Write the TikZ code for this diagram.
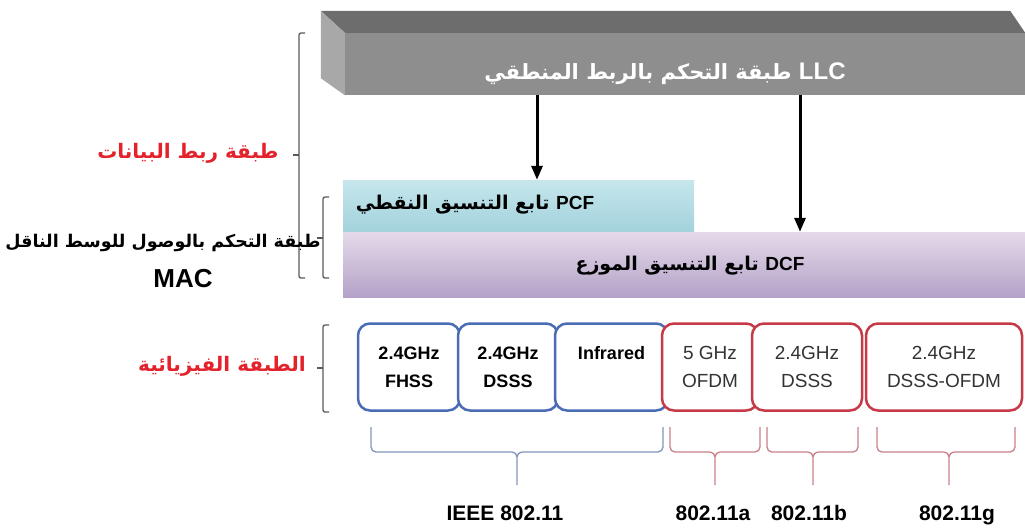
\documentclass[tikz,border=0pt]{standalone}
\usepackage{fontspec}
\setmainfont{Liberation Sans}
\newfontfamily\arabicfont[Script=Arabic]{DejaVu Sans}
\newfontfamily\latinfont{Liberation Sans}
\TeXXeTstate=1
\usetikzlibrary{arrows.meta,positioning,calc}
\definecolor{llctop}{HTML}{6D6D6D}
\definecolor{llcfront}{HTML}{8E8E8E}
\definecolor{llcside}{HTML}{A8A8A8}
\definecolor{pcftop}{HTML}{C6E6EC}
\definecolor{pcfbot}{HTML}{A2D2DC}
\definecolor{dcftop}{HTML}{E4DAEA}
\definecolor{dcfbot}{HTML}{B4A2C8}
\definecolor{phyblue}{HTML}{4A6CB4}
\definecolor{phyred}{HTML}{C63A48}
\definecolor{braceblue}{HTML}{8294BC}
\definecolor{bracered}{HTML}{C98089}
\definecolor{lblred}{HTML}{E3222C}
\definecolor{darktxt}{HTML}{333333}

\begin{document}
\begin{tikzpicture}[x=1pt, y=-1pt,
  bar/.style={draw=none, inner sep=0pt},
  arr/.style={-{Triangle[length=14pt,width=11pt]}, line width=3pt},
  phy/.style={line width=2.5pt, rounded corners=12pt, fill=white,
              minimum height=87pt, align=center, inner sep=0pt},
  phyb/.style={phy, draw=phyblue, font=\fontsize{18}{28}\selectfont\bfseries},
  phyr/.style={phy, draw=phyred, text=darktxt, font=\fontsize{19}{28}\selectfont},
  bkt/.style={draw=black!65, line width=1.3pt, rounded corners=2pt},
  brc/.style={line width=1.3pt, rounded corners=5pt},
  ar/.style={font=\fontsize{20}{24}\selectfont\bfseries},
  std/.style={font=\fontsize{21}{24}\selectfont\bfseries, anchor=base}
]
  \useasboundingbox (0,0) rectangle (1025,528);

  \node[bar, fill=llcfront, minimum width=680pt, minimum height=62pt] (llc) at (685,64) {};
  \fill[llctop] ([xshift=-24pt,yshift=22pt]llc.north west) -- ([xshift=-15pt,yshift=22pt]llc.north east)
    -- (llc.north east) -- (llc.north west) -- cycle;
  \fill[llcside] ([xshift=-24pt,yshift=22pt]llc.north west) -- (llc.north west)
    -- (llc.south west) -- ([xshift=-24pt,yshift=17pt]llc.south west) -- cycle;
  \node[ar, text=white, font=\fontsize{21}{28}\selectfont\bfseries] (llct) at (665,74)
    {\arabicfont\beginR\beginL{\latinfont\fontsize{24}{28}\selectfont LLC}\endL{} طبقة التحكم بالربط المنطقي\endR};

  \node[bar, top color=pcftop, bottom color=pcfbot, minimum width=351pt, minimum height=52pt] (pcf) at (518.5,206) {};
  \node[bar, top color=dcftop, bottom color=dcfbot, minimum width=682pt, minimum height=65pt] (dcf) at (684,264.5) {};
  \node[ar, font=\fontsize{19}{24}\selectfont\bfseries] (pcft) at (475,205)
    {\arabicfont\beginR\beginL{\latinfont PCF}\endL{} تابع التنسيق النقطي\endR};
  \node[ar, font=\fontsize{19}{24}\selectfont\bfseries] (dcft) at (690,266)
    {\arabicfont\beginR\beginL{\latinfont DCF}\endL{} تابع التنسيق الموزع\endR};

  \coordinate (a1) at (537,0);
  \coordinate (a2) at (800,0);
  \draw[arr] (llc.south -| a1) -- (pcf.north -| a1);
  \draw[arr] (llc.south -| a2) -- (dcf.north -| a2);

  \draw[bkt] (305,33) -- (299,33) -- (299,278) -- (305,278);
  \draw[bkt] (299,155) -- (293,155);
  \draw[bkt] (329,197) -- (323,197) -- (323,278) -- (329,278);
  \draw[bkt] (323,238) -- (317,238);
  \draw[bkt] (329,325) -- (323,325) -- (323,412) -- (329,412);
  \draw[bkt] (323,368) -- (317,368);

  \node[ar, text=lblred] (dll) at (188,153) {\arabicfont\beginR طبقة ربط البيانات\endR};
  \node[ar, font=\fontsize{17.5}{24}\selectfont\bfseries] (macar) at (163,243)
    {\arabicfont\beginR طبقة التحكم بالوصول للوسط الناقل\endR};
  \node[std, font=\fontsize{26}{28}\selectfont\bfseries] (mac) at (183,287) {MAC};
  \node[ar, text=lblred] (phy) at (222,366) {\arabicfont\beginR الطبقة الفيزيائية\endR};

  \node[phyb, minimum width=102pt] (fhss) at (409,367) {2.4GHz\\FHSS};
  \node[phyb, minimum width=100pt] (dsss) at (508,367) {2.4GHz\\DSSS};
  \node[phyb, minimum width=113pt] (ir) at (611.5,367) {Infrared\\\phantom{X}};
  \node[phyr, minimum width=96pt] (ofdm) at (710,367) {5 GHz\\OFDM};
  \node[phyr, minimum width=110pt] (dsssb) at (807,367) {2.4GHz\\DSSS};
  \node[phyr, minimum width=156pt] (dsofdm) at (944,367) {2.4GHz\\DSSS-OFDM};

  \foreach \a/\m/\b/\c in {371/517/663/braceblue, 670/715/760/bracered,
                            767/813/858/bracered, 877/949/1015/bracered}
    \draw[brc, \c] (\a,427) -- (\a,452) -- (\m,452) -- (\m,485)
                   (\b,427) -- (\b,452) -- (\m,452) -- (\m,485);

  \node[std] (ieee) at (505,520) {IEEE 802.11};
  \node[std] (s11a) at (713,520) {802.11a};
  \node[std] (s11b) at (809,520) {802.11b};
  \node[std] (s11g) at (957,520) {802.11g};
\end{tikzpicture}
\end{document}
